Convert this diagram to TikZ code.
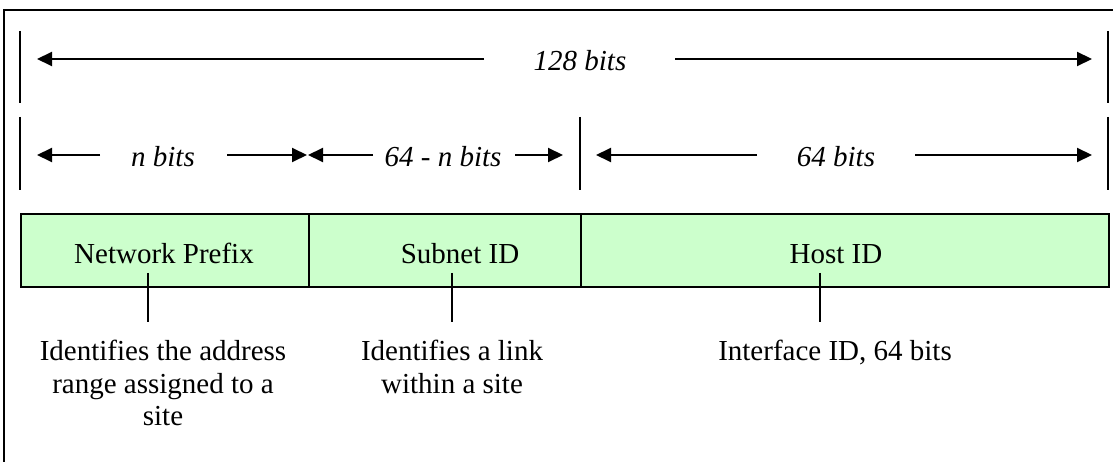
\documentclass[tikz,border=0pt]{standalone}
\usepackage{fontspec}
\setmainfont{Liberation Serif}
\usetikzlibrary{arrows.meta}
\definecolor{cellgreen}{HTML}{CCFFCC}
\begin{document}
\begin{tikzpicture}[x=1pt,y=-1pt,
  lbl/.style={font=\fontsize{29}{33}\selectfont\itshape, anchor=base, inner sep=0pt},
  cell/.style={draw=black, line width=2pt, fill=cellgreen, inner sep=0pt, minimum height=73pt, anchor=north west},
  celltext/.style={font=\fontsize{29}{33}\selectfont, anchor=base, inner sep=0pt},
  desc/.style={font=\fontsize{29}{32.5}\selectfont, align=center, anchor=north, inner sep=0pt},
  arr/.style={line width=2pt, -{Triangle[length=15pt,width=14pt]}},
  tick/.style={line width=2pt},
  conn/.style={line width=2pt}]
\useasboundingbox (0,0) rectangle (1113,462);
\fill[white] (0,0) rectangle (1113,462);
% outer frame (only top and left sides visible)
\draw[line width=2.2pt] (1113,10) -- (4,10) -- (4,462);
% vertical ticks
\draw[tick] (20,31) -- (20,103);
\draw[tick] (20,117) -- (20,190);
\draw[tick] (1108,31) -- (1108,103);
\draw[tick] (1108,117) -- (1108,190);
\draw[tick] (580,117) -- (580,190);
% 128 bits
\node[lbl] (l128) at (580,71) {128 bits};
\coordinate (a128L) at (484,59); \coordinate (a128Le) at (37,59);
\coordinate (a128R) at (675,59); \coordinate (a128Re) at (1092,59);
\draw[arr] (a128L) -- (a128Le);
\draw[arr] (a128R) -- (a128Re);
% n bits
\node[lbl] (ln) at (163,167) {n bits};
\coordinate (anL) at (100,155); \coordinate (anLe) at (37,155);
\coordinate (anR) at (227,155); \coordinate (anRe) at (307,155);
\draw[arr] (anL) -- (anLe);
\draw[arr] (anR) -- (anRe);
% 64 - n bits
\node[lbl] (lsub) at (443,167) {64 - n bits};
\coordinate (asL) at (373,155); \coordinate (asLe) at (308,155);
\coordinate (asR) at (515,155); \coordinate (asRe) at (563,155);
\draw[arr] (asL) -- (asLe);
\draw[arr] (asR) -- (asRe);
% 64 bits
\node[lbl] (l64) at (836,167) {64 bits};
\coordinate (ahL) at (757,155); \coordinate (ahLe) at (596,155);
\coordinate (ahR) at (915,155); \coordinate (ahRe) at (1092,155);
\draw[arr] (ahL) -- (ahLe);
\draw[arr] (ahR) -- (ahRe);
% cells
\node[cell, minimum width=288pt] (c1) at (20,213) {};
\node[cell, minimum width=272pt] (c2) at (308,213) {};
\node[cell, minimum width=528pt] (c3) at (580,213) {};
\node[celltext] (t1) at (164,263) {Network Prefix};
\node[celltext] (t2) at (460,263) {Subnet ID};
\node[celltext] (t3) at (836,263) {Host ID};
% descriptions
\node[desc] (d1) at (163,340) {Identifies the address\\range assigned to a\\site};
\node[desc] (d2) at (452,340) {Identifies a link\\within a site};
\node[desc] (d3) at (835,340) {Interface ID, 64 bits};
% connectors
\coordinate (k1) at (148,273); \coordinate (k1e) at (148,322);
\coordinate (k2) at (452,273); \coordinate (k2e) at (452,322);
\coordinate (k3) at (820,273); \coordinate (k3e) at (820,322);
\draw[conn] (k1) -- (k1e);
\draw[conn] (k2) -- (k2e);
\draw[conn] (k3) -- (k3e);
\end{tikzpicture}
\end{document}
